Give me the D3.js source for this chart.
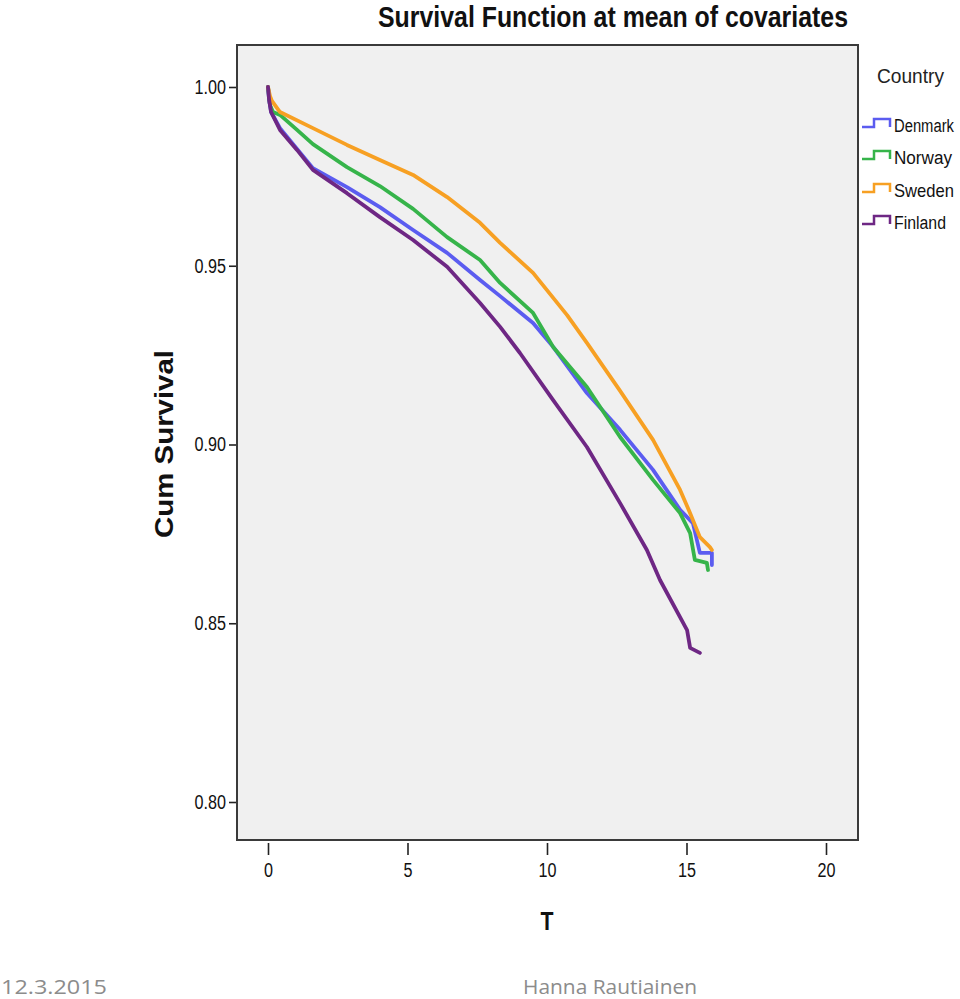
<!DOCTYPE html>
<html>
<head>
<meta charset="utf-8">
<script src="https://cdn.jsdelivr.net/npm/d3@7"></script>
<style>
  body { margin: 0; background: #fff; }
  svg { display: block; }
</style>
</head>
<body>
<div id="chart"></div>
<script>
// survival curves (time, cumulative survival)
var countries = ['Denmark', 'Norway', 'Sweden', 'Finland'];
var colors = ['#5b5cf0', '#36b44a', '#f7a023', '#6e2784'];

var denmarkT = [0, 0.04, 0.11, 0.43, 1.04, 1.61, 2.83, 4.01, 5.20, 6.42, 7.60, 8.32, 9.50, 10.22, 11.43, 12.62, 13.80, 14.77, 15.23, 15.48, 15.91, 15.91];
var denmarkS = [1.0, 0.9964, 0.9930, 0.9885, 0.9827, 0.9773, 0.9720, 0.9664, 0.9600, 0.9536, 0.9460, 0.9415, 0.9340, 0.9273, 0.9144, 0.9041, 0.8929, 0.8817, 0.8780, 0.8697, 0.8697, 0.8663];

var norwayT = [0, 0.07, 0.18, 0.43, 1.04, 1.61, 2.83, 4.01, 5.20, 6.42, 7.60, 8.32, 9.50, 10.22, 11.43, 12.62, 13.80, 14.77, 15.13, 15.30, 15.73, 15.77];
var norwayS = [1.0, 0.9950, 0.9930, 0.9922, 0.9880, 0.9840, 0.9776, 0.9723, 0.9659, 0.9580, 0.9516, 0.9452, 0.9368, 0.9273, 0.9161, 0.9021, 0.8901, 0.8808, 0.8752, 0.8677, 0.8669, 0.8649];

var swedenT = [0, 0.07, 0.14, 0.43, 1.61, 2.83, 4.01, 5.20, 6.42, 7.60, 8.32, 9.50, 10.72, 11.43, 12.62, 13.80, 14.77, 15.13, 15.48, 15.84, 15.91];
var swedenS = [1.0, 0.9975, 0.9961, 0.9930, 0.9885, 0.9838, 0.9796, 0.9754, 0.9692, 0.9620, 0.9564, 0.9480, 0.9362, 0.9284, 0.9150, 0.9013, 0.8873, 0.8808, 0.8741, 0.8713, 0.8705];

var finlandT = [0, 0.04, 0.11, 0.43, 1.04, 1.61, 2.83, 4.01, 5.20, 6.42, 7.60, 8.32, 9.03, 10.22, 11.43, 12.62, 13.58, 14.05, 15.02, 15.13, 15.48];
var finlandS = [1.0, 0.9964, 0.9930, 0.9880, 0.9824, 0.9768, 0.9703, 0.9636, 0.9572, 0.9497, 0.9396, 0.9329, 0.9256, 0.9124, 0.8993, 0.8836, 0.8705, 0.8621, 0.8481, 0.8431, 0.8417];

var xTicks = [0, 5, 10, 15, 20];
var yTicks = [0.80, 0.85, 0.90, 0.95, 1.00];

var seriesT = [denmarkT, norwayT, swedenT, finlandT];
var seriesS = [denmarkS, norwayS, swedenS, finlandS];

var sans = '"Liberation Sans", Arial, sans-serif';

// squeeze labels to the narrow look of the original
function narrowWidth(s) {
    var w = 0;
    for (var k = 0; k < s.length; k++) w += (s[k] === '.') ? 4.5 : 9;
    return w;
}

var svg = d3.select('#chart')
    .append('svg')
    .attr('width', 960)
    .attr('height', 999);

var frame = { left: 237, right: 858, top: 45, bottom: 840 };

var x = d3.scaleLinear().domain([0, 20]).range([268, 826]);
var y = d3.scaleLinear().domain([0.80, 1.00]).range([802, 87]);

// plot area
svg.append('rect')
    .attr('x', frame.left)
    .attr('y', frame.top)
    .attr('width', frame.right - frame.left)
    .attr('height', frame.bottom - frame.top)
    .attr('fill', '#f0f0f0')
    .attr('stroke', '#3a3a3a')
    .attr('stroke-width', 2);

// title
svg.append('text')
    .attr('x', 378)
    .attr('y', 27)
    .attr('textLength', 470)
    .attr('lengthAdjust', 'spacingAndGlyphs')
    .style('font-family', sans)
    .style('font-weight', 'bold')
    .style('font-size', '30px')
    .style('fill', '#111')
    .text('Survival Function at mean of covariates');

// axes
var yAxis = d3.axisLeft(y).tickValues(yTicks).tickFormat(d3.format('.2f')).tickSize(7).tickPadding(3);
var xAxis = d3.axisBottom(x).tickValues(xTicks).tickFormat(d3.format('d')).tickSize(12).tickPadding(8);

var gy = svg.append('g')
    .attr('transform', 'translate(' + (frame.left - 1) + ',0)')
    .call(yAxis);

var gx = svg.append('g')
    .attr('transform', 'translate(0,' + (frame.bottom + 3) + ')')
    .call(xAxis);

[gx, gy].forEach(function(g) {
    g.select('.domain').remove();
    g.selectAll('.tick line').attr('stroke', '#222').attr('stroke-width', 1.6);
    g.selectAll('.tick text')
        .style('font-family', sans)
        .style('font-size', '20px')
        .style('fill', '#111')
        .attr('textLength', function() { return narrowWidth(this.textContent); })
        .attr('lengthAdjust', 'spacingAndGlyphs');
});

// axis titles
svg.append('text')
    .attr('transform', 'translate(173,444) rotate(-90)')
    .attr('x', -94)
    .attr('y', 0)
    .attr('textLength', 188)
    .attr('lengthAdjust', 'spacingAndGlyphs')
    .style('font-family', sans)
    .style('font-weight', 'bold')
    .style('font-size', '26px')
    .style('fill', '#111')
    .text('Cum Survival');

svg.append('text')
    .attr('x', x(10))
    .attr('y', 930)
    .attr('text-anchor', 'middle')
    .attr('textLength', 13)
    .attr('lengthAdjust', 'spacingAndGlyphs')
    .style('font-family', sans)
    .style('font-weight', 'bold')
    .style('font-size', '25px')
    .style('fill', '#111')
    .text('T');

// survival lines
var line = d3.line()
    .x(function(d) { return x(d[0]); })
    .y(function(d) { return y(d[1]); });

countries.forEach(function(c, i) {
    var pts = seriesT[i].map(function(t, j) { return [t, seriesS[i][j]]; });
    svg.append('path')
        .datum(pts)
        .attr('d', line)
        .attr('fill', 'none')
        .attr('stroke', colors[i])
        .attr('stroke-width', 3.8)
        .attr('stroke-linejoin', 'round')
        .attr('stroke-linecap', 'round');
});

// legend
svg.append('text')
    .attr('x', 877)
    .attr('y', 83)
    .attr('textLength', 67)
    .attr('lengthAdjust', 'spacingAndGlyphs')
    .style('font-family', sans)
    .style('font-size', '21px')
    .style('fill', '#222')
    .text('Country');

var legendY = [125, 157, 190, 222];
var legendW = [60, 58, 60, 52];
countries.forEach(function(c, i) {
    var cy = legendY[i];
    svg.append('path')
        .attr('d', 'M862,' + (cy + 2) + 'H874V' + (cy - 6) + 'H890V' + (cy + 2))
        .attr('fill', 'none')
        .attr('stroke', colors[i])
        .attr('stroke-width', 2.5);
    var g = svg.append('g');
    var t = g.append('text')
        .style('font-family', sans)
        .style('font-size', '19px')
        .style('fill', '#111')
        .text(c);
    var sx = legendW[i] / t.node().getComputedTextLength();
    g.attr('transform', 'translate(894,' + (cy + 7) + ') scale(' + sx + ',1)');
});

// footer
var footer = svg.append('g')
    .style('font-family', '"Open Sans", "Noto Sans", sans-serif')
    .style('font-size', '20px')
    .style('fill', '#8c8c8c');

footer.append('text')
    .attr('x', 1)
    .attr('y', 994)
    .attr('textLength', 106)
    .attr('lengthAdjust', 'spacingAndGlyphs')
    .text('12.3.2015');

footer.append('text')
    .attr('x', 523)
    .attr('y', 994)
    .attr('textLength', 174)
    .attr('lengthAdjust', 'spacingAndGlyphs')
    .text('Hanna Rautiainen');
</script>
</body>
</html>
